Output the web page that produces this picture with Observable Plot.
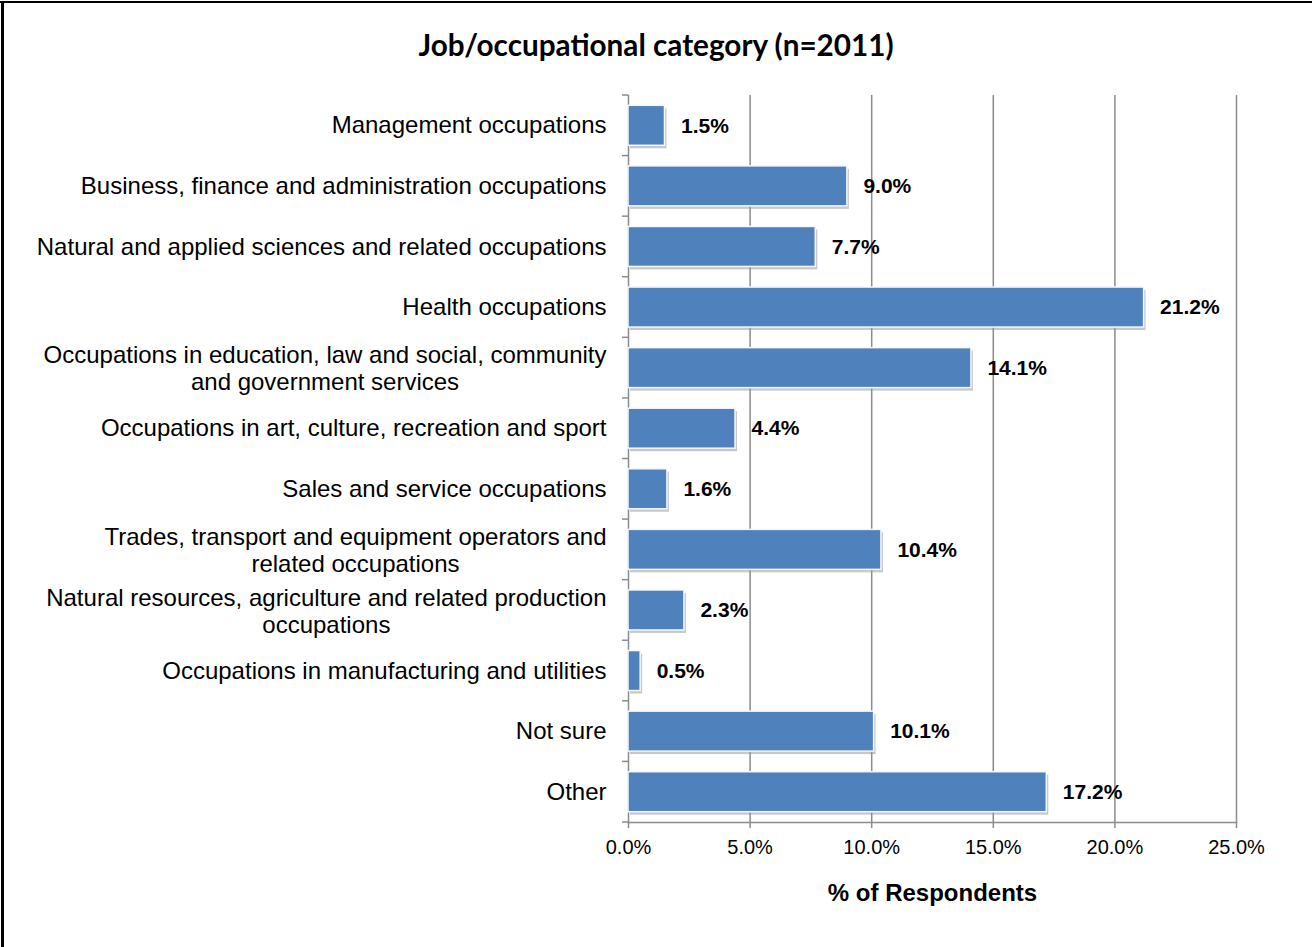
<!DOCTYPE html>
<html><head><meta charset="utf-8">
<script src="https://cdn.jsdelivr.net/npm/d3@7"></script>
<script src="https://cdn.jsdelivr.net/npm/@observablehq/plot@0.6"></script>
<style>
html,body{margin:0;padding:0;background:#fff;}
#wrap{position:relative;width:1312px;height:947px;overflow:hidden;background:#fff;}
#bt{position:absolute;left:0;top:1px;width:1312px;height:2px;background:#000;}
#bl{position:absolute;left:1px;top:1px;width:3px;height:946px;background:#000;}
#title{position:absolute;left:0;top:30px;width:1312px;text-align:center;font-family:Lato,"Open Sans",sans-serif;font-weight:bold;font-size:29.7px;line-height:1;color:#000;}
#chart{position:absolute;left:0;top:90px;}
</style>
</head><body>
<div id="wrap"><div id="bt"></div><div id="bl"></div>
<div id="title"></div>
<div id="chart"></div></div>
<script>
const titleText = "Job/occupational category (n=2011)";
const categories = [
  "Management occupations",
  "Business, finance and administration occupations",
  "Natural and applied sciences and related occupations",
  "Health occupations",
  "Occupations in education, law and social, community\nand government services",
  "Occupations in art, culture, recreation and sport",
  "Sales and service occupations",
  "Trades, transport and equipment operators and\nrelated occupations",
  "Natural resources, agriculture and related production\noccupations",
  "Occupations in manufacturing and utilities",
  "Not sure",
  "Other"
];
const values = [1.5, 9.0, 7.7, 21.2, 14.1, 4.4, 1.6, 10.4, 2.3, 0.5, 10.1, 17.2];
const xTicks = [0, 5, 10, 15, 20, 25];
const xLabel = ["% of Respondents"];

document.getElementById("title").textContent = titleText;

const rows = categories.map((c, i) => ({cat: c, value: values[i]}));
const gray = "#8c8c8c";
const barColor = "#4f81bd";
const sans = "'Liberation Sans', Arial, sans-serif";
const narrow = "'Liberation Sans Narrow', 'Arial Narrow', 'Liberation Sans', Arial, sans-serif";
const catSize = 24;

const ctx = document.createElement("canvas").getContext("2d");
ctx.font = `${catSize}px ${sans}`;

const labelMarks = categories.map(c => {
  const lines = c.split("\n");
  if (lines.length === 1) {
    return Plot.text([c], {x: () => 0, y: d => d, text: d => d, textAnchor: "end", dx: -22,
      fontSize: catSize, fill: "#000"});
  }
  const w = d3.max(lines, l => ctx.measureText(l).width);
  return Plot.text([c], {x: () => 0, y: d => d, text: d => d, textAnchor: "middle", dx: -22 - w / 2,
    fontSize: catSize, lineHeight: 1.13, fill: "#000"});
});

function bandTicks(index, scales, values, dims) {
  const y = scales.y, x0 = scales.x(0);
  const step = y.step(), off = (step - y.bandwidth()) / 2;
  const ys = categories.map(c => y(c) - off);
  ys.push(y(categories[categories.length - 1]) + y.bandwidth() + off);
  const g = d3.create("svg:g").attr("stroke", gray).attr("stroke-width", 1.5);
  g.selectAll("line").data(ys).join("line")
    .attr("x1", x0 - 6).attr("x2", x0).attr("y1", d => d).attr("y2", d => d);
  return g.node();
}

const chart = Plot.plot({
  width: 1312,
  height: 857,
  marginTop: 5,
  marginBottom: 125,
  marginLeft: 628,
  marginRight: 76,
  style: {fontFamily: sans, background: "transparent", color: "#000"},
  x: {domain: [0, 25]},
  y: {domain: categories, paddingInner: 0.34, paddingOuter: 0.17, round: false, axis: null},
  marks: [
    Plot.gridX([5, 10, 15, 20, 25], {stroke: gray, strokeOpacity: 1, strokeWidth: 1.5}),
    Plot.frame({anchor: "left", stroke: gray, strokeWidth: 1.5}),
    Plot.frame({anchor: "bottom", stroke: gray, strokeWidth: 1.5}),
    bandTicks,
    Plot.axisX(xTicks, {tickSize: 6, tickPadding: 11, stroke: gray, strokeWidth: 1.5, fill: "#000",
      fontSize: 20, fontFamily: narrow, tickFormat: d => d.toFixed(1) + "%", label: null}),
    Plot.barX(rows, {x: "value", y: "cat", fill: "#9a9a9a", fillOpacity: 0.55, dx: 2, dy: 3}),
    Plot.barX(rows, {x: "value", y: "cat", fill: barColor, stroke: "#f4f7fb", strokeWidth: 1.5}),
    Plot.text(rows, {x: "value", y: "cat", text: d => d.value.toFixed(1) + "%", textAnchor: "start",
      dx: 16, fontWeight: "bold", fontSize: 21, fill: "#000"}),
    ...labelMarks,
    Plot.text(xLabel, {frameAnchor: "bottom", text: d => d, dy: 71, fontWeight: "bold", fontSize: 24,
      lineAnchor: "middle", fill: "#000"})
  ]
});
document.getElementById("chart").appendChild(chart);
</script>
</body></html>
